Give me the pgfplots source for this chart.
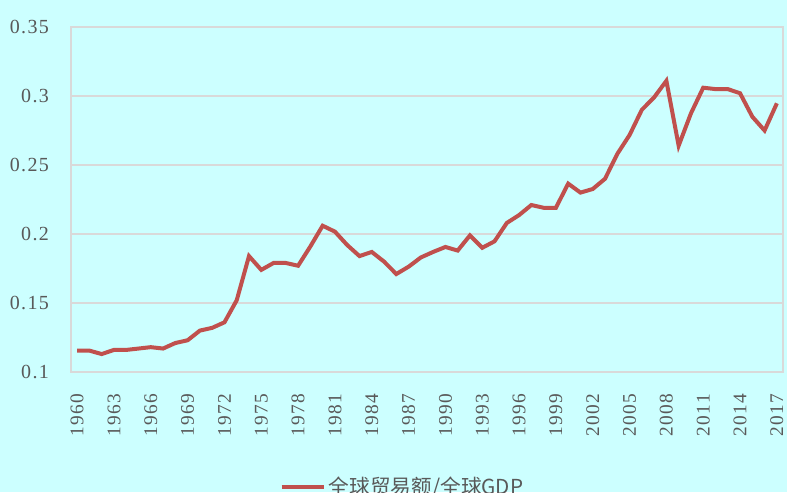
\documentclass[border=0pt]{standalone}
\usepackage{pgfplots}
\pgfplotsset{compat=1.18}
\usepackage{fontspec}
\setmainfont{Liberation Serif}
\newfontfamily\cjk{Noto Sans CJK SC}
\newfontfamily\tickfont[LetterSpace=7]{Liberation Serif}
\definecolor{bgcyan}{HTML}{CCFFFF}
\definecolor{linered}{HTML}{C0504D}
\definecolor{gridgray}{HTML}{D9D9D9}
\definecolor{labgray}{HTML}{595959}
\begin{document}
\begin{tikzpicture}
\path[use as bounding box] (-53.25pt,-90pt) rectangle (537pt,279pt);
\fill[bgcyan] (-53.25pt,-90pt) rectangle (537pt,279pt);
\begin{axis}[
  at={(0pt,0pt)}, anchor=south west,
  scale only axis, width=534pt, height=258.75pt,
  xmin=1959.5, xmax=2017.5, ymin=0.1, ymax=0.35,
  xtick={1960,1963,...,2017},
  ytick={0.1,0.15,...,0.36},
  yticklabels={0.1,0.15,0.2,0.25,0.3,0.35},
  major tick length=0pt,
  axis line style={gridgray, line width=0.8pt},
  ymajorgrids, grid style={gridgray, line width=0.8pt},
  x tick label style={rotate=90, anchor=east, font=\tickfont\fontsize{14.5}{16}\selectfont, text=labgray, xshift=-13pt},
  y tick label style={font=\tickfont\fontsize{15}{17}\selectfont, text=labgray, xshift=-13pt},
  /pgf/number format/assume math mode=true,
  xticklabel={\pgfmathprintnumber[1000 sep={},fixed]{\tick}},
  legend style={at={(0.466,-0.333)}, anchor=center, draw=none, fill=none,
    font=\cjk\fontsize{15.5}{17}\selectfont, text=labgray},
  legend image code/.code={\draw[#1, line width=3pt] (0pt,0pt) -- (32pt,0pt);},
]
\addplot[linered, line width=3pt] coordinates {
(1960,0.1155) (1961,0.1155) (1962,0.113) (1963,0.116) (1964,0.116)
(1965,0.117) (1966,0.118) (1967,0.117) (1968,0.121) (1969,0.123)
(1970,0.130) (1971,0.132) (1972,0.136) (1973,0.152) (1974,0.184)
(1975,0.174) (1976,0.179) (1977,0.179) (1978,0.177) (1979,0.191)
(1980,0.206) (1981,0.2017) (1982,0.192) (1983,0.184) (1984,0.187)
(1985,0.180) (1986,0.171) (1987,0.1763) (1988,0.183) (1989,0.187)
(1990,0.1906) (1991,0.188) (1992,0.199) (1993,0.190) (1994,0.1947)
(1995,0.208) (1996,0.2137) (1997,0.221) (1998,0.219) (1999,0.219)
(2000,0.2365) (2001,0.230) (2002,0.2326) (2003,0.240) (2004,0.258)
(2005,0.2717) (2006,0.290) (2007,0.299) (2008,0.311) (2009,0.264)
(2010,0.2874) (2011,0.306) (2012,0.305) (2013,0.305) (2014,0.302)
(2015,0.285) (2016,0.275) (2017,0.2947)};
\addlegendentry{全球贸易额/全球GDP}
\end{axis}
\end{tikzpicture}
\end{document}
